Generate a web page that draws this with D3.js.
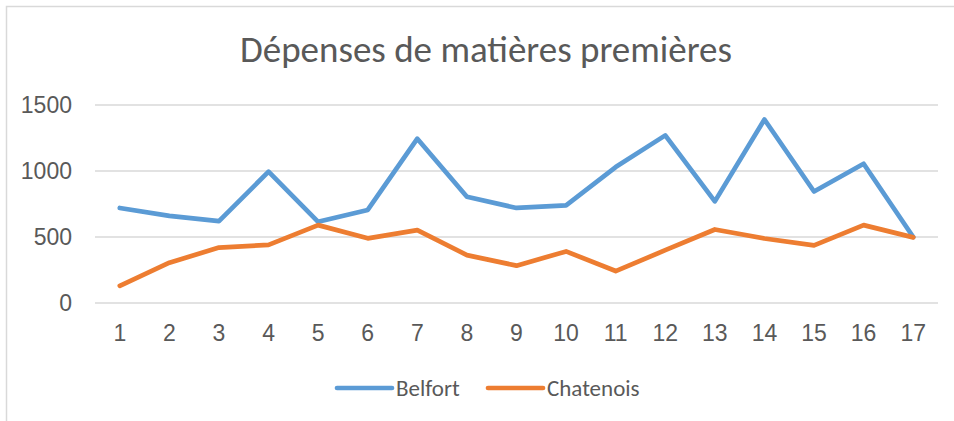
<!DOCTYPE html>
<html>
<head>
<meta charset="utf-8">
<script src="https://cdn.jsdelivr.net/npm/d3@7"></script>
<style>
  html, body { margin: 0; padding: 0; background: #fff; }
  svg { display: block; font-family: Carlito, Calibri, "Open Sans", sans-serif; }
</style>
</head>
<body>
<svg id="chart" width="954" height="421"></svg>
<script>
// Monthly raw-material spending for the two sites
const periods = [1, 2, 3, 4, 5, 6, 7, 8, 9, 10, 11, 12, 13, 14, 15, 16, 17];
const belfort = [720, 660, 620, 995, 615, 705, 1245, 805, 720, 740, 1030, 1270, 770, 1390, 845, 1055, 500];
const chatenois = [130, 305, 420, 440, 590, 490, 552, 363, 283, 391, 242, 400, 557, 489, 436, 590, 497];
const yTicks = [0, 500, 1000, 1500];
const seriesNames = ["Belfort", "Chatenois"];
const seriesColors = ["#5b9bd5", "#ed7d31"];

const svg = d3.select("#chart");
const textColor = "#595959";
const gridColor = "#d9d9d9";

// Outer chart frame
svg.append("rect")
  .attr("x", 6.5).attr("y", 6.5)
  .attr("width", 960).attr("height", 430)
  .attr("fill", "none").attr("stroke", gridColor).attr("stroke-width", 1.5);

const plot = { left: 95, right: 938, top: 105, bottom: 303 };

const x = d3.scaleBand().domain(periods).range([plot.left, plot.right]);
const y = d3.scaleLinear().domain([0, 1500]).range([plot.bottom, plot.top]);

// Title
svg.append("text")
  .attr("x", 486).attr("y", 62)
  .attr("text-anchor", "middle")
  .attr("fill", textColor)
  .attr("font-size", 37)
  .text("Dépenses de matières premières");

// Horizontal gridlines
svg.append("g")
  .selectAll("line").data(yTicks).join("line")
  .attr("x1", plot.left).attr("x2", plot.right)
  .attr("y1", d => y(d)).attr("y2", d => y(d))
  .attr("stroke", gridColor).attr("stroke-width", 1.5);

// Y axis labels
const yAxis = svg.append("g")
  .attr("transform", `translate(${plot.left - 23},0)`)
  .call(d3.axisLeft(y).tickValues(yTicks).tickFormat(d3.format("d")).tickSize(0).tickPadding(0));
yAxis.select(".domain").remove();
yAxis.selectAll("text")
  .attr("fill", textColor).attr("font-size", 23)
  .attr("font-family", null);

// X axis labels
const xAxis = svg.append("g")
  .attr("transform", `translate(0,${plot.bottom})`)
  .call(d3.axisBottom(x).tickSize(0).tickPadding(22));
xAxis.select(".domain").remove();
xAxis.selectAll("text")
  .attr("fill", textColor).attr("font-size", 23)
  .attr("font-family", null);

// Series lines
const line = d3.line()
  .x((d, i) => x(periods[i]) + x.bandwidth() / 2)
  .y(d => y(d));

[belfort, chatenois].forEach((vals, i) => {
  svg.append("path")
    .datum(vals)
    .attr("d", line)
    .attr("fill", "none")
    .attr("stroke", seriesColors[i])
    .attr("stroke-width", 4.7)
    .attr("stroke-linecap", "round")
    .attr("stroke-linejoin", "round");
});

// Legend
const legendItems = [
  { x: 337, name: seriesNames[0], color: seriesColors[0] },
  { x: 488, name: seriesNames[1], color: seriesColors[1] }
];
const lg = svg.append("g").selectAll("g").data(legendItems).join("g")
  .attr("transform", d => `translate(${d.x},388)`);
lg.append("line")
  .attr("x1", 0).attr("x2", 55).attr("y1", 0).attr("y2", 0)
  .attr("stroke", d => d.color).attr("stroke-width", 4.7)
  .attr("stroke-linecap", "round");
lg.append("text")
  .attr("x", 59).attr("y", 8)
  .attr("fill", textColor).attr("font-size", 23)
  .text(d => d.name);
</script>
</body>
</html>
